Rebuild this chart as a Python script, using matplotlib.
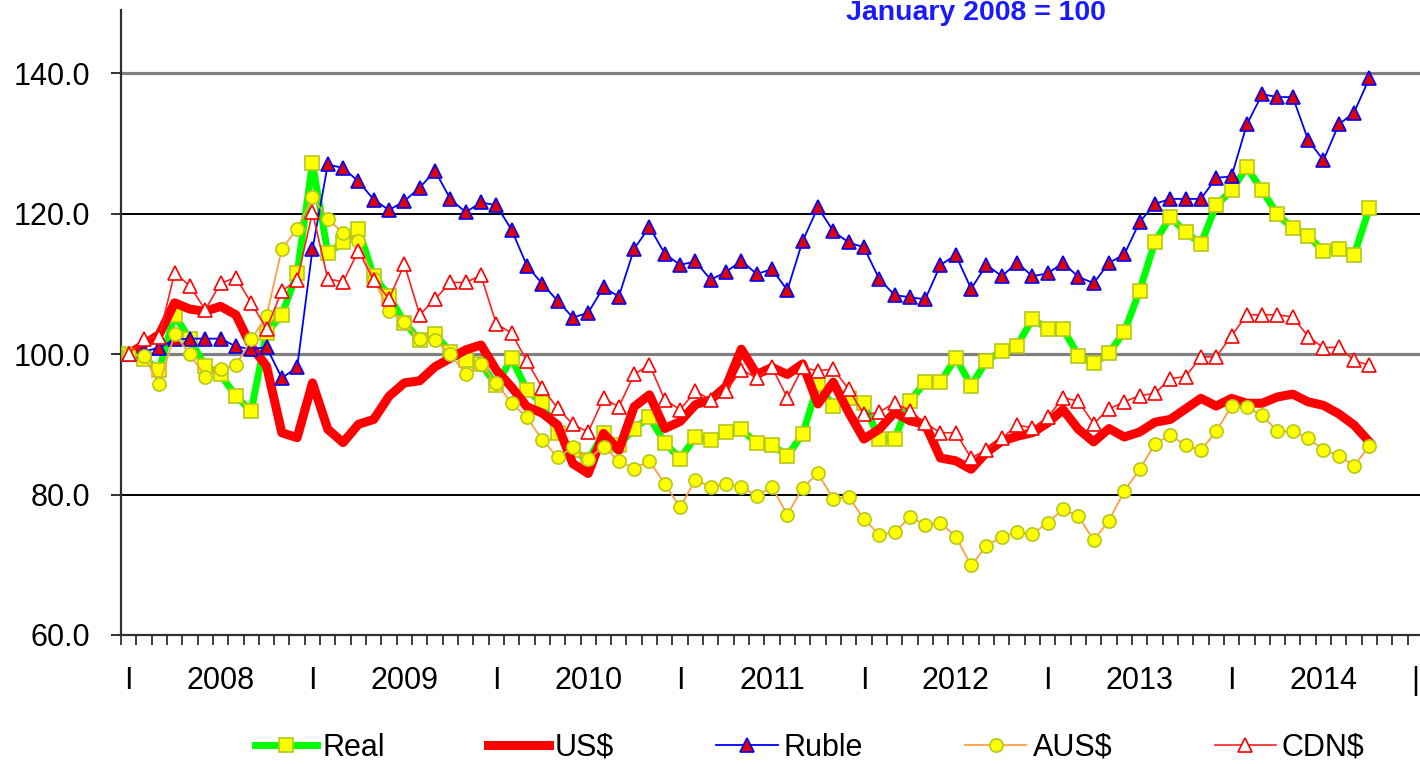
import numpy as np
import matplotlib
matplotlib.use('Agg')
import matplotlib.pyplot as plt

plt.rcParams['font.family'] = ['Liberation Sans', 'DejaVu Sans']

# monthly index values, Jan 2008 .. Oct 2014 (January 2008 = 100)
real = [100.0, 99.3, 97.8, 105.6, 102.1, 98.3, 97.1, 94.0, 91.9, 103.0,
        105.6, 111.5, 127.2, 114.4, 115.9, 117.8, 111.1, 108.3, 104.5, 102.0,
        102.8, 100.3, 99.1, 98.6, 95.6, 99.4, 94.9, 93.0, 88.7, 86.3,
        84.9, 88.7, 87.0, 89.4, 91.0, 87.4, 85.1, 88.2, 87.8, 88.9,
        89.3, 87.3, 87.1, 85.5, 88.6, 95.7, 92.6, 93.8, 93.0, 87.9,
        87.9, 93.3, 96.0, 96.0, 99.5, 95.5, 99.0, 100.5, 101.2, 105.0,
        103.6, 103.6, 99.8, 98.7, 100.1, 103.2, 109.0, 116.0, 119.5, 117.4,
        115.7, 121.2, 123.3, 126.6, 123.3, 119.9, 117.9, 116.8, 114.7, 114.9,
        114.1, 120.8]

us = [100.0, 101.4, 102.8, 107.3, 106.4, 106.1, 106.8, 105.6, 101.1, 98.3,
      88.8, 88.1, 95.9, 89.3, 87.4, 90.0, 90.7, 94.0, 95.9, 96.2,
      98.2, 99.4, 100.6, 101.3, 97.7, 95.3, 92.5, 91.6, 89.9, 84.4,
      83.0, 88.7, 86.3, 92.5, 94.2, 89.4, 90.4, 92.8, 93.5, 95.4,
      100.7, 97.1, 98.1, 97.1, 98.6, 92.9, 96.0, 91.7, 87.9, 89.3,
      91.7, 90.5, 90.0, 85.2, 84.8, 83.6, 86.0, 87.6, 88.3, 88.8,
      90.2, 92.1, 89.3, 87.5, 89.4, 88.2, 88.9, 90.3, 90.7, 92.2,
      93.7, 92.6, 93.7, 93.0, 93.0, 93.9, 94.3, 93.2, 92.7, 91.5,
      89.9, 87.5]

ruble = [100.0, 100.4, 100.9, 102.1, 102.2, 102.2, 102.2, 101.1, 100.7, 101.0,
         96.6, 98.1, 114.9, 127.0, 126.5, 124.6, 122.0, 120.5, 121.8, 123.7,
         126.1, 122.1, 120.2, 121.6, 121.2, 117.7, 112.6, 110.0, 107.6, 105.2,
         105.9, 109.5, 108.2, 115.0, 118.1, 114.3, 112.7, 113.2, 110.6, 111.7,
         113.3, 111.4, 112.1, 109.1, 116.1, 120.9, 117.5, 115.9, 115.2, 110.7,
         108.4, 108.1, 107.8, 112.7, 114.1, 109.3, 112.7, 111.1, 113.0, 111.1,
         111.5, 113.0, 111.0, 110.1, 113.0, 114.2, 118.8, 121.4, 122.1, 122.1,
         122.1, 125.1, 125.3, 132.7, 137.0, 136.6, 136.6, 130.5, 127.6, 132.7,
         134.4, 139.3]

aus = [100.0, 99.7, 95.7, 102.8, 100.0, 96.8, 97.9, 98.4, 102.1, 105.4,
       115.0, 117.8, 122.4, 119.3, 117.2, 116.1, 110.7, 106.1, 104.6, 102.1,
       102.0, 100.0, 97.2, 98.6, 95.9, 93.0, 91.0, 87.8, 85.3, 86.7,
       85.1, 86.8, 84.8, 83.7, 84.8, 81.5, 78.2, 82.1, 81.1, 81.5,
       81.1, 79.8, 81.1, 77.1, 81.0, 83.0, 79.4, 79.7, 76.5, 74.3,
       74.6, 76.8, 75.7, 76.0, 74.0, 69.9, 72.7, 74.0, 74.6, 74.4,
       76.0, 77.9, 76.9, 73.5, 76.3, 80.5, 83.6, 87.2, 88.5, 87.0,
       86.3, 89.0, 92.6, 92.4, 91.3, 89.0, 89.0, 88.0, 86.4, 85.5,
       84.1, 86.9]

cdn = [100.0, 102.2, 102.5, 111.6, 109.7, 106.3, 110.1, 110.9, 107.3, 103.6,
       109.0, 110.5, 120.2, 110.7, 110.3, 114.7, 110.5, 107.9, 112.8, 105.6,
       107.8, 110.2, 110.2, 111.2, 104.3, 103.0, 99.0, 95.2, 92.3, 90.0,
       88.9, 93.7, 92.5, 97.1, 98.5, 93.5, 92.1, 94.7, 93.5, 94.7,
       97.8, 96.6, 98.1, 93.8, 98.1, 97.6, 97.9, 95.0, 91.4, 91.7,
       93.1, 91.9, 90.2, 88.8, 88.8, 85.2, 86.4, 88.0, 89.9, 89.5,
       91.0, 93.8, 93.3, 90.1, 92.2, 93.2, 94.1, 94.4, 96.5, 96.8,
       99.6, 99.6, 102.6, 105.6, 105.6, 105.6, 105.3, 102.5, 100.9, 101.0,
       99.1, 98.4]

years = ['2008', '2009', '2010', '2011', '2012', '2013', '2014']
y_ticks = [60, 80, 100, 120, 140]

x = np.arange(len(real)) + 0.5

fig = plt.figure(figsize=(14.2, 7.64), dpi=100)
ax = fig.add_axes([121/1420, 1 - 635/764, 1302/1420, 625/764])

# horizontal grid
for v in y_ticks[1:]:
    if v in (100, 140):
        ax.axhline(v, color='#808080', lw=2.3, zorder=1)
    else:
        ax.axhline(v, color='black', lw=1.4, zorder=1)

l_real, = ax.plot(x, real, color='#00ff00', lw=5, marker='s', ms=9.5,
                  mfc='#ffff00', mec='#b4c81e', mew=1.2, label='Real', zorder=3)
l_us, = ax.plot(x, us, color='#ff0000', lw=6.5, solid_joinstyle='round',
                label='US$', zorder=4)
l_rub, = ax.plot(x, ruble, color='#0000ff', lw=1.3, marker='^', ms=9.5,
                 mfc='#e00000', mec='#0000ff', mew=1.2, label='Ruble', zorder=5)
l_aus, = ax.plot(x, aus, color='#ffa040', lw=1.3, marker='o', ms=9.5,
                 mfc='#ffff00', mec='#b4c81e', mew=1.2, label='AUS$', zorder=6)
l_cdn, = ax.plot(x, cdn, color='#ff2020', lw=1.2, marker='^', ms=9.5,
                 mfc='white', mec='#ff0000', mew=1.2, label='CDN$', zorder=7)

ax.set_xlim(0, 85)
ax.set_ylim(60, 149)

for s in ['top', 'right']:
    ax.spines[s].set_visible(False)
for s in ['left', 'bottom']:
    ax.spines[s].set_color('#303030')
    ax.spines[s].set_linewidth(1.6)
ax.spines['bottom'].set_zorder(8)

ax.set_yticks(y_ticks)
ax.set_yticklabels(['%.1f' % v for v in y_ticks])
ax.tick_params(axis='y', length=7, width=1.4, color='#303030', pad=15, labelsize=22)

# month ticks + year labels between the "I" separators
ax.set_xticks(np.arange(0, 86), minor=True)
pos = []
labs = []
for k, yr in enumerate(years):
    pos += [12 * k + 0.5, 12 * k + 6.5]
    labs += ['I', yr]
pos.append(84.5)
labs.append('|')
ax.set_xticks(pos)
ax.set_xticklabels(labs)
ax.tick_params(axis='x', which='major', length=0, pad=22, labelsize=22)
ax.tick_params(axis='x', which='minor', length=7, width=1.3, color='#303030')

fig.text(976/1420, 1 - 20/764, 'January 2008 = 100', ha='center', va='baseline',
         fontsize=20.5, fontweight='bold', color='#1a1aff')

fig.legend(handles=[l_real, l_us, l_rub, l_aus, l_cdn],
           labels=['Real', 'US$', 'Ruble', 'AUS$', 'CDN$'],
           ncol=5, loc='center', bbox_to_anchor=(810/1420, 1 - 748/764),
           frameon=False, fontsize=22, handlelength=2.0, handletextpad=0.2,
           columnspacing=3.35, borderaxespad=0, borderpad=0)

fig.savefig('out.png', dpi=100)
